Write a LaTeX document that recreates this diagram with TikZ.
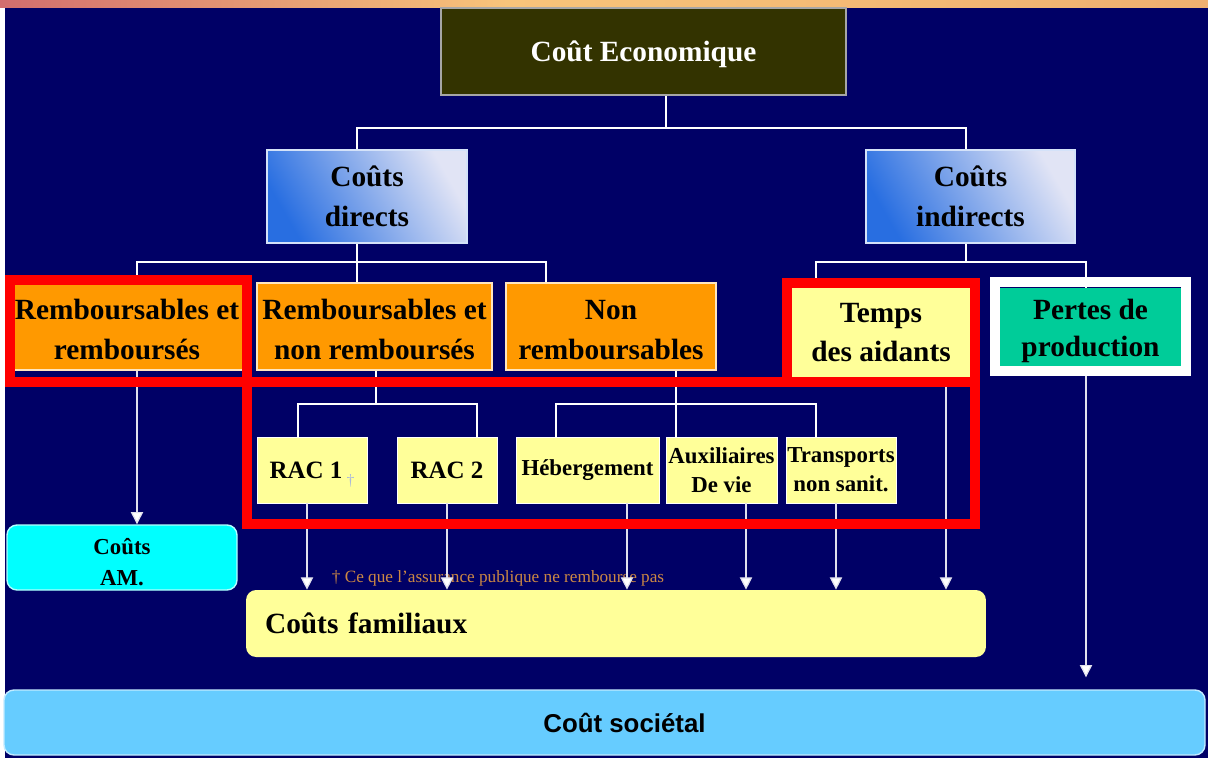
\documentclass[tikz,border=0pt]{standalone}
\usepackage{fontspec}
\setmainfont{Liberation Serif}
\newfontfamily\socfont{Liberation Sans}
\usetikzlibrary{arrows.meta,calc}

\definecolor{navy}{RGB}{0,0,102}
\definecolor{ecoC}{RGB}{51,51,0}
\definecolor{orngC}{RGB}{255,153,0}
\definecolor{yelC}{RGB}{255,255,153}
\definecolor{grnC}{RGB}{0,204,153}
\definecolor{amC}{RGB}{0,255,255}
\definecolor{socC}{RGB}{102,204,255}
\definecolor{noteC}{RGB}{204,136,68}
\definecolor{dagC}{RGB}{170,185,220}
\definecolor{gradA}{RGB}{40,110,225}
\definecolor{gradB}{RGB}{225,228,245}
\definecolor{stripA}{RGB}{150,0,0}
\definecolor{stripB}{RGB}{190,70,70}
\definecolor{stripC}{RGB}{210,110,110}
\definecolor{stripD}{RGB}{248,196,122}
\definecolor{stripE}{RGB}{240,176,112}
\definecolor{stripF}{RGB}{225,145,105}

\pgfdeclarehorizontalshading{topstrip}{100bp}{color(0bp)=(stripA); color(5bp)=(stripB); color(25bp)=(stripC); color(46bp)=(stripD); color(75bp)=(stripE); color(100bp)=(stripF)}

\newcommand{\lowstrut}[1]{\rule{0pt}{#1}}

\tikzset{
  sz/.style n args={2}{minimum width={#1*0.02cm}, minimum height={#2*0.02cm}},
  box/.style={inner sep=0pt, align=center, text=black,
    font=\bfseries\fontsize{16.7}{22.5}\selectfont},
  eco/.style={box, fill=ecoC, draw=gray!70, line width=0.6pt, text=white, text depth=0pt},
  grad/.style={box, draw=white!80!gradA, line width=0.6pt,
    top color=gradB, bottom color=gradA, shading angle=-60},
  orng/.style={box, fill=orngC, draw=white!75!orngC, line width=0.6pt},
  yel3/.style={box, fill=yelC},
  grn/.style={box, fill=grnC, font=\bfseries\fontsize{16.7}{21}\selectfont, text depth=-4.5pt},
  yel4/.style={box, fill=yelC, draw=white, line width=0.5pt,
    font=\bfseries\fontsize{13}{16.4}\selectfont},
  rac/.style={yel4, font=\bfseries\fontsize{14.2}{17}\selectfont},
  am/.style={box, fill=amC, draw=white!70!amC, line width=0.8pt, rounded corners=0.2cm,
    font=\bfseries\fontsize{13}{18}\selectfont},
  fam/.style={box, fill=yelC, rounded corners=0.2cm, align=left,
    minimum width=14.8cm, minimum height=1.34cm, text width=14.04cm, inner xsep=0.38cm},
  soc/.style={box, fill=socC, draw=white!60!socC, line width=0.8pt, rounded corners=0.2cm,
    font=\socfont\bfseries\fontsize{14.7}{17}\selectfont},
  note/.style={inner sep=0pt, text=noteC, font=\fontsize{9.8}{11}\selectfont},
  link/.style={draw=white, line width=1.4pt},
  arr/.style={draw=white!88!navy, line width=0.7pt,
    -{Triangle[width=7pt,length=7pt,fill=white]}},
  redframe/.style={draw=red, line width=5.7pt},
  whiteframe/.style={draw=white, line width=5.7pt}
}

\begin{document}
\begin{tikzpicture}[x=0.02cm, y=-0.02cm]
\useasboundingbox (0,0) rectangle (1208,758);
\fill[navy] (0,0) rectangle (1208,758);
\fill[white] (0,0) rectangle (5,758);
\shade[shading=topstrip] (0,0) rectangle (1208,7);

\node[eco, sz={405}{87}] (eco) at (643.5,51.5) {Coût Economique};
\node[grad, sz={200}{93}] (dir) at (367,196.5) {Coûts\\directs};
\node[grad, sz={209}{93}] (ind) at (970.5,196.5) {Coûts\\indirects};

\node[orng, sz={232}{87}] (rr) at (127,326.5) {\lowstrut{14.8pt}Remboursables et\\remboursés};
\node[orng, sz={235}{87}] (rnr) at (374.5,326.5) {\lowstrut{14.8pt}Remboursables et\\non remboursés};
\node[orng, sz={210}{87}] (nr) at (611,326.5) {\lowstrut{14.8pt}Non\\remboursables};
\node[yel3, sz={178}{89}] (tmp) at (881,332.5) {Temps\\des aidants};
\node[grn, sz={181}{79}] (per) at (1090.5,327.5) {Pertes de\\production};

\node[rac, sz={110}{66}] (rac1) at (312,470) {RAC 1\,\raisebox{-0.6ex}[0pt][0pt]{\textcolor{dagC}{\fontsize{9}{9}\selectfont\mdseries †}}};
\node[rac, sz={100}{66}] (rac2) at (447,470) {RAC 2};
\node[yel4, sz={143}{66}] (heb) at (587.5,470) {Hébergement};
\node[yel4, sz={111}{66}] (aux) at (721.5,470) {Auxiliaires\\De vie};
\node[yel4, sz={110}{66}] (tra) at (841,470) {Transports\\non sanit.};

\node[am, sz={230}{65}] (am) at (122,557.5) {\lowstrut{14.6pt}Coûts\\AM.};
\node[fam] (fam) at (616,623.5) {Coûts familiaux};
\node[soc, sz={1201}{65}] (soc) at (604.5,722.5) {\hspace*{0.8cm}Coût sociétal};
\node[note] (fn) at (498,578) {† Ce que l’assurance publique ne rembourse pas};

\coordinate (j1) at (666,128);
\coordinate (j1l) at (357,128);
\coordinate (j1r) at (966,128);
\draw[link] (j1 |- eco.south) -- (j1);
\draw[link] (j1l |- dir.north) -- (j1l) -- (j1r) -- (j1r |- ind.north);

\coordinate (j2l) at (137,262);
\coordinate (j2c) at (357,262);
\coordinate (j2r) at (546,262);
\draw[link] (j2c |- dir.south) -- (j2c |- rnr.north);
\draw[link] (j2l |- rr.north) -- (j2l) -- (j2r) -- (j2r |- nr.north);

\coordinate (j3l) at (816,262);
\coordinate (j3c) at (966,262);
\coordinate (j3r) at (1086,262);
\draw[link] (j3c |- ind.south) -- (j3c);
\draw[link] (j3l |- tmp.north) -- (j3l) -- (j3r) -- (j3r |- per.north);

\coordinate (j4l) at (298,404);
\coordinate (j4c) at (376,404);
\coordinate (j4r) at (477,404);
\draw[link] (j4c |- rnr.south) -- (j4c);
\draw[link] (j4l |- rac1.north) -- (j4l) -- (j4r) -- (j4r |- rac2.north);

\coordinate (j5l) at (556,404);
\coordinate (j5c) at (676,404);
\coordinate (j5r) at (816,404);
\draw[link] (j5c |- nr.south) -- (j5c |- aux.north);
\draw[link] (j5l |- heb.north) -- (j5l) -- (j5r) -- (j5r |- tra.north);

\foreach \n/\x in {rac1/307, rac2/447, heb/627, aux/746, tra/836, tmp/946}{
  \coordinate (ax) at (\x,0);
  \draw[arr] (ax |- \n.south) -- (ax |- fam.north);
}
\coordinate (axl) at (137,0);
\draw[arr] (axl |- rr.south) -- (axl |- am.north);
\coordinate (axr) at (1086,0);
\draw[arr, shorten >=0.24cm] (axr |- per.south) -- (axr |- soc.north);

\draw[redframe] (10,280) rectangle (247,382);
\draw[redframe] (787,283) rectangle (975,382);
\draw[redframe] (247,382) rectangle (975,524);
\draw[whiteframe] (995,282) rectangle (1186,371);
\end{tikzpicture}
\end{document}
